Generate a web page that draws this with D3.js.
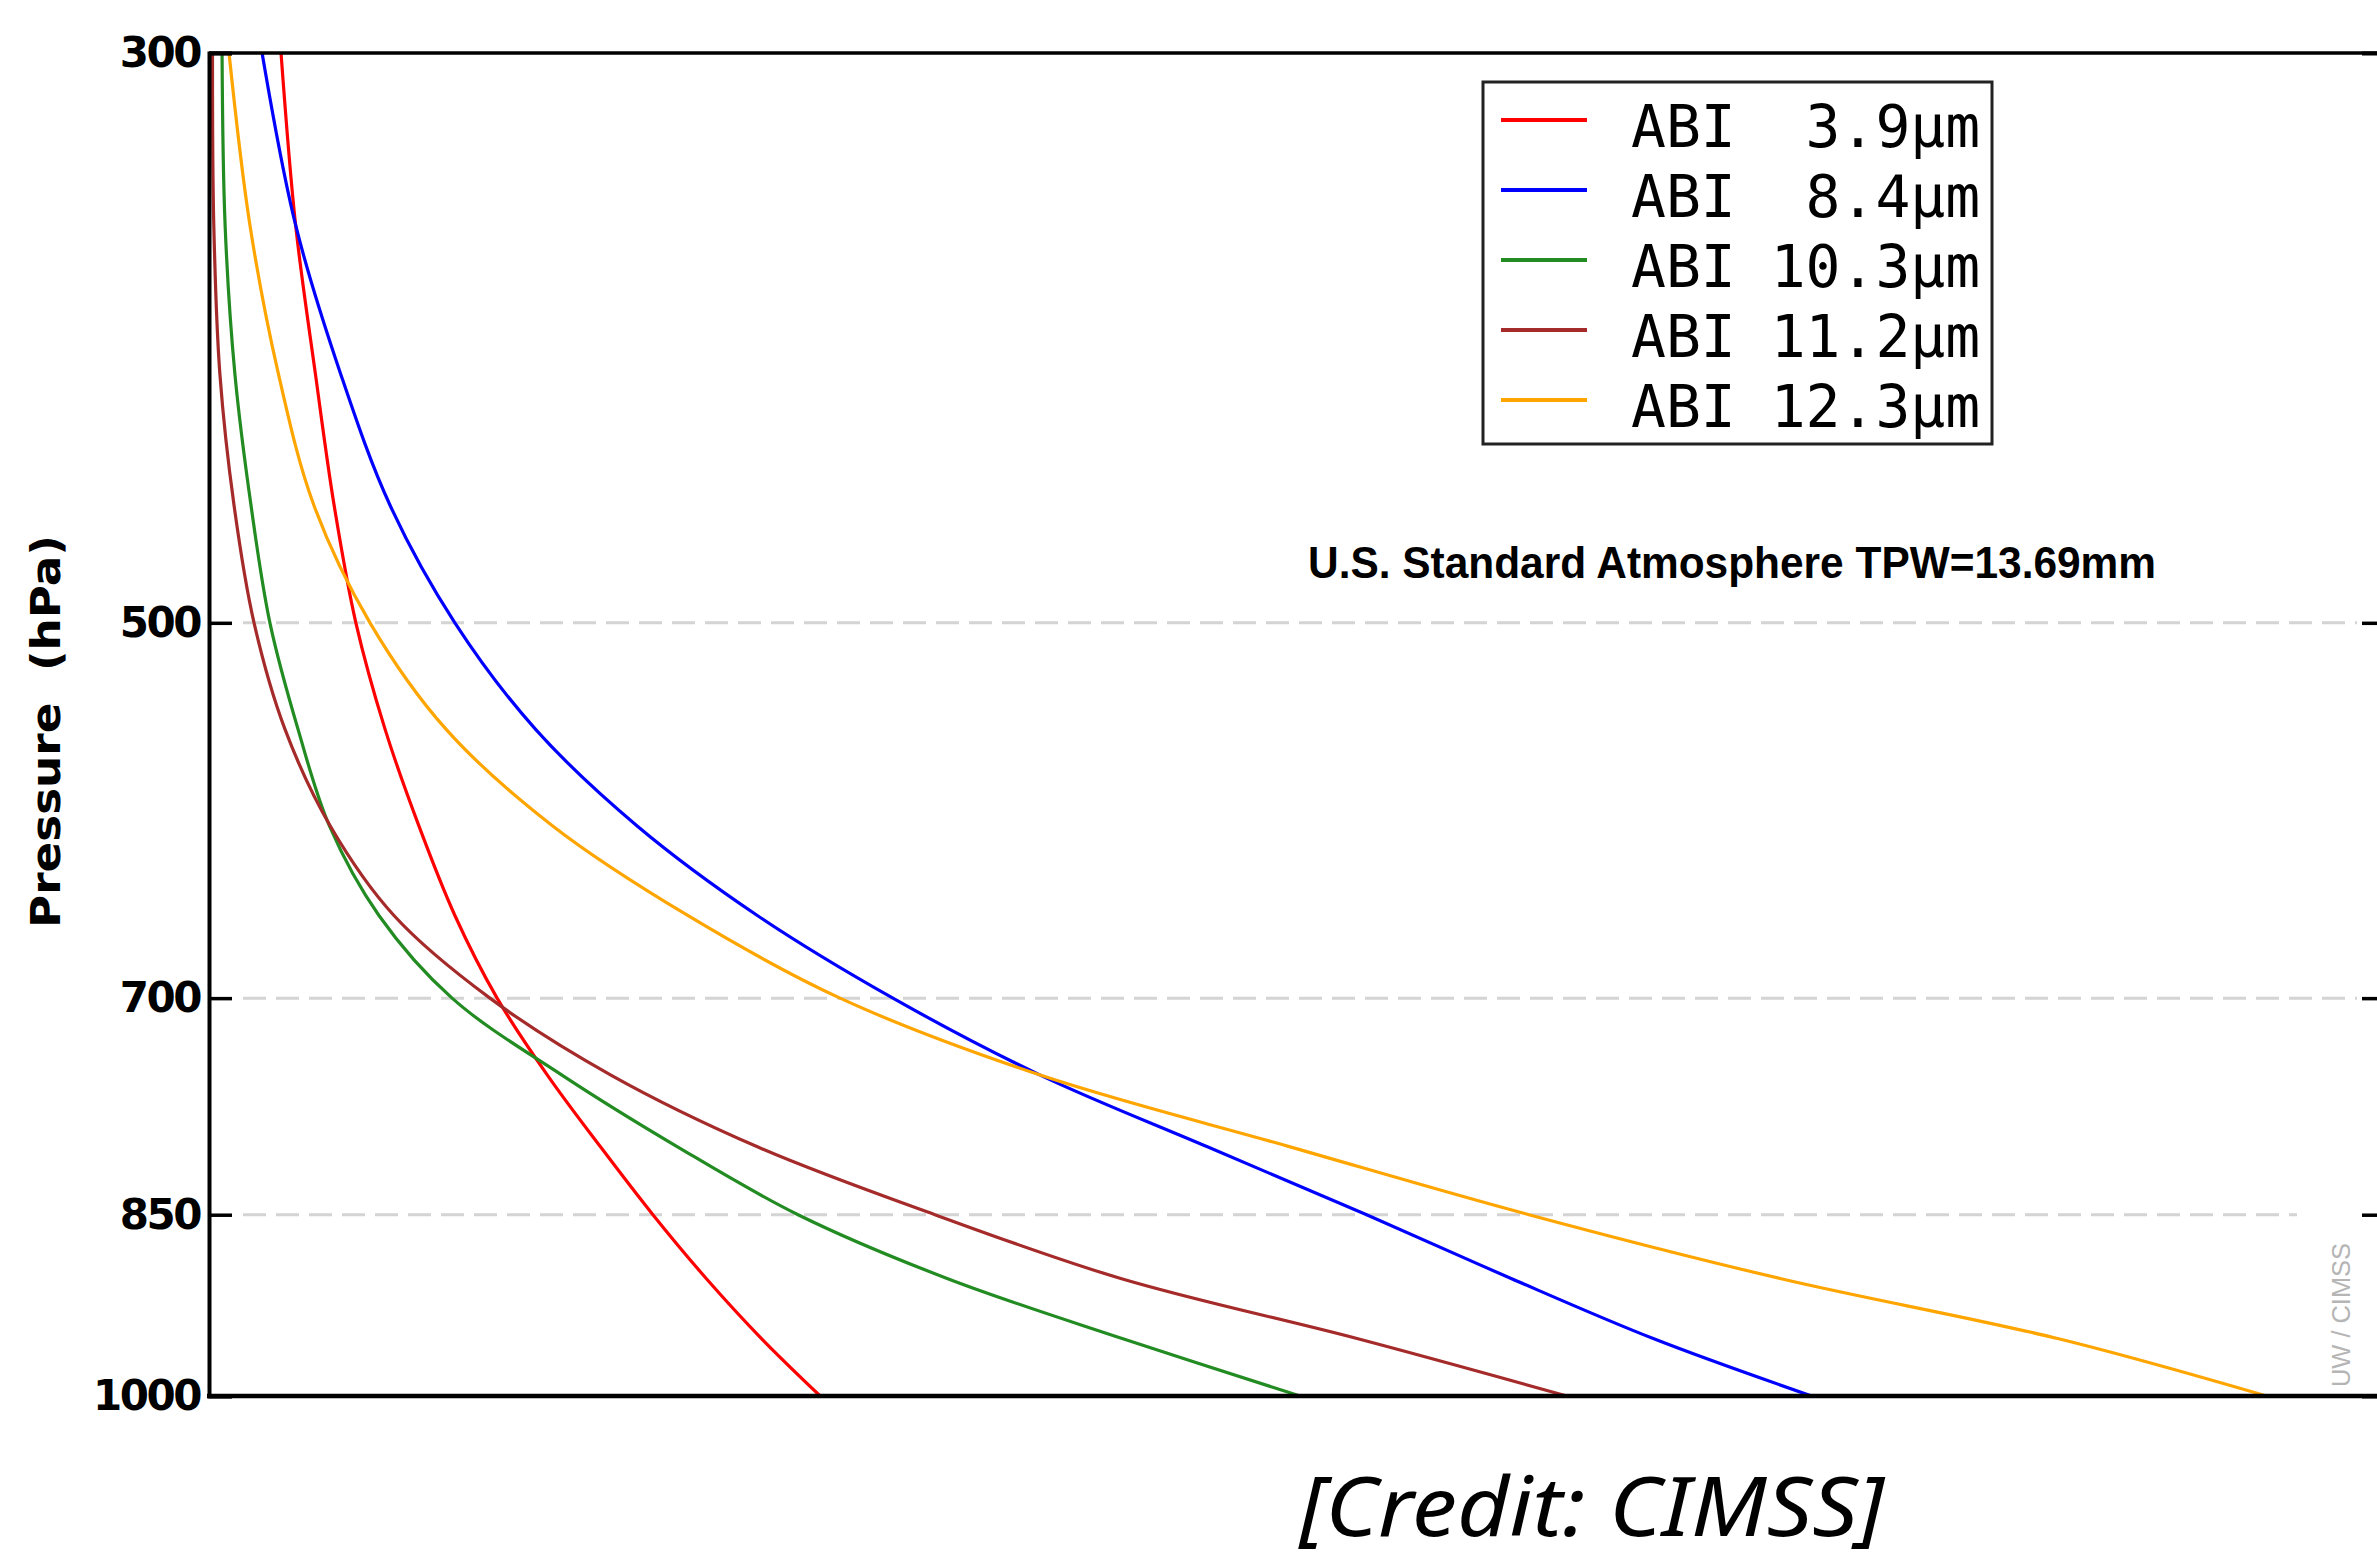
<!DOCTYPE html>
<html>
<head>
<meta charset="utf-8">
<script src="https://cdn.jsdelivr.net/npm/d3@7"></script>
<style>
  html, body { margin: 0; padding: 0; background: #ffffff; }
  svg { display: block; }
</style>
</head>
<body>
<svg id="chart" width="2377" height="1564"></svg>
<script>
// ---- data ----
const pressures = [300, 350, 400, 450, 500, 550, 600, 650, 700, 750, 800, 850, 900, 950, 1000];
const abi39  = [0.0331, 0.0398, 0.0489, 0.0575, 0.0675, 0.0809, 0.0965, 0.1130, 0.1324, 0.1555, 0.1800, 0.2040, 0.2285, 0.2540, 0.2809];
const abi84  = [0.0244, 0.0398, 0.0605, 0.0832, 0.1130, 0.1500, 0.1969, 0.2520, 0.3143, 0.3820, 0.4591, 0.5320, 0.5984, 0.6640, 0.7365];
const abi103 = [0.0060, 0.0074, 0.0119, 0.0193, 0.0280, 0.0409, 0.0554, 0.0781, 0.1117, 0.1622, 0.2155, 0.2707, 0.3392, 0.4200, 0.5014];
const abi112 = [0.0016, 0.0022, 0.0050, 0.0115, 0.0207, 0.0349, 0.0558, 0.0850, 0.1291, 0.1847, 0.2523, 0.3336, 0.4190, 0.5280, 0.6240];
const abi123 = [0.0092, 0.0188, 0.0319, 0.0482, 0.0740, 0.1089, 0.1581, 0.2200, 0.2900, 0.3820, 0.4972, 0.6066, 0.7220, 0.8500, 0.9455];

const seriesNames  = ["ABI  3.9\u00b5m", "ABI  8.4\u00b5m", "ABI 10.3\u00b5m", "ABI 11.2\u00b5m", "ABI 12.3\u00b5m"];
const seriesValues = [abi39, abi84, abi103, abi112, abi123];
const seriesColors = ["#ff0000", "#0000ff", "#228b22", "#a52a2a", "#ffa500"];

const yTickValues = [300, 500, 700, 850, 1000];
const gridValues  = [500, 700, 850];
const annotation  = "U.S. Standard Atmosphere TPW=13.69mm";
const yTitle      = "Pressure  (hPa)";
const watermark   = "UW / CIMSS";
const credit      = "[Credit: CIMSS]";

// ---- layout ----
const pLeft = 209, pRight = 2385, pTop = 53, pBottom = 1396;
const svg = d3.select("#chart");

const x = d3.scaleLinear().domain([0, 1]).range([pLeft, pRight]);
const y = d3.scaleLog().domain([300, 1000]).range([pTop, pBottom]);

// grid lines
svg.append("g").selectAll("line").data(gridValues).join("line")
  .attr("x1", 243)
  .attr("x2", d => d === 850 ? 2297 : 2357)
  .attr("y1", d => y(d)).attr("y2", d => y(d))
  .attr("stroke", "#d4d4d4").attr("stroke-width", 3)
  .attr("stroke-dasharray", "23,10");

// curves
const line = d3.line()
  .x(d => x(d[0]))
  .y(d => y(d[1]))
  .curve(d3.curveCatmullRom.alpha(0.5));

svg.append("g").selectAll("path").data(seriesValues).join("path")
  .attr("d", vals => line(vals.map((v, i) => [v, pressures[i]])))
  .attr("fill", "none")
  .attr("stroke", (d, i) => seriesColors[i])
  .attr("stroke-width", 3.2)
  .attr("stroke-linejoin", "round");

// frame
svg.append("line").attr("x1", pLeft).attr("x2", pRight + 10).attr("y1", pTop).attr("y2", pTop)
  .attr("stroke", "#000").attr("stroke-width", 3.5);
svg.append("line").attr("x1", pLeft - 2).attr("x2", pRight + 10).attr("y1", pBottom).attr("y2", pBottom)
  .attr("stroke", "#000").attr("stroke-width", 4.5);

// left axis (ticks pointing inward)
const yAxis = d3.axisLeft(y).tickValues(yTickValues).tickFormat(d3.format("d"))
  .tickSize(-23).tickPadding(9);
const gy = svg.append("g").attr("transform", `translate(${pLeft},0)`).call(yAxis);
gy.select(".domain").attr("stroke", "#000").attr("stroke-width", 4);
gy.selectAll(".tick line").attr("stroke", "#000").attr("stroke-width", 3.5);
gy.selectAll(".tick text")
  .attr("fill", "#000")
  .style("font-family", "'DejaVu Sans', sans-serif")
  .style("font-weight", "bold")
  .style("font-size", "42px")
  .style("letter-spacing", "-2.5px");

// right axis (ticks only)
const yAxisR = d3.axisRight(y).tickValues(gridValues).tickFormat("").tickSize(-23);
const gr = svg.append("g").attr("transform", `translate(${pRight},0)`).call(yAxisR);
gr.select(".domain").attr("stroke", "#000").attr("stroke-width", 4);
gr.selectAll(".tick line").attr("stroke", "#000").attr("stroke-width", 3.5);

// y title
svg.append("text")
  .attr("transform", "translate(60,928) rotate(-90)")
  .attr("text-anchor", "start")
  .attr("textLength", 393).attr("lengthAdjust", "spacingAndGlyphs")
  .style("white-space", "pre")
  .style("font-family", "'DejaVu Sans', sans-serif")
  .style("font-weight", "bold")
  .style("font-size", "40px")
  .text(yTitle);

// annotation
svg.append("text")
  .attr("x", 1308).attr("y", 578)
  .attr("textLength", 848).attr("lengthAdjust", "spacingAndGlyphs")
  .style("font-family", "'Liberation Sans Narrow', 'Liberation Sans', Arial, sans-serif")
  .style("font-weight", "bold")
  .style("font-size", "45px")
  .text(annotation);

// legend
const lg = svg.append("g");
lg.append("rect").attr("x", 1483).attr("y", 82).attr("width", 509).attr("height", 362)
  .attr("fill", "#fff").attr("stroke", "#222").attr("stroke-width", 3);
const rows = lg.selectAll("g.row").data(seriesNames).join("g").attr("class", "row")
  .attr("transform", (d, i) => `translate(0,${120 + i * 70})`);
rows.append("line").attr("x1", 1501).attr("x2", 1587).attr("y1", 0).attr("y2", 0)
  .attr("stroke", (d, i) => seriesColors[i]).attr("stroke-width", 4);
rows.append("text").attr("x", 1631).attr("y", 27)
  .style("white-space", "pre")
  .style("font-family", "'DejaVu Sans Mono', monospace")
  .style("font-size", "58px")
  .attr("fill", "#000")
  .text(d => d);

// watermark
svg.append("text")
  .attr("transform", "translate(2350,1387) rotate(-90)")
  .attr("textLength", 144).attr("lengthAdjust", "spacingAndGlyphs")
  .attr("fill", "#b5b5b5")
  .style("font-family", "'Liberation Sans Narrow', 'Liberation Sans', sans-serif")
  .style("font-size", "26px")
  .text(watermark);

// credit
svg.append("text")
  .attr("x", 1299).attr("y", 1536)
  .attr("textLength", 585).attr("lengthAdjust", "spacingAndGlyphs")
  .style("font-family", "'Noto Sans', 'Open Sans', sans-serif")
  .style("font-style", "italic")
  .style("font-size", "82px")
  .text(credit);
</script>
</body>
</html>
